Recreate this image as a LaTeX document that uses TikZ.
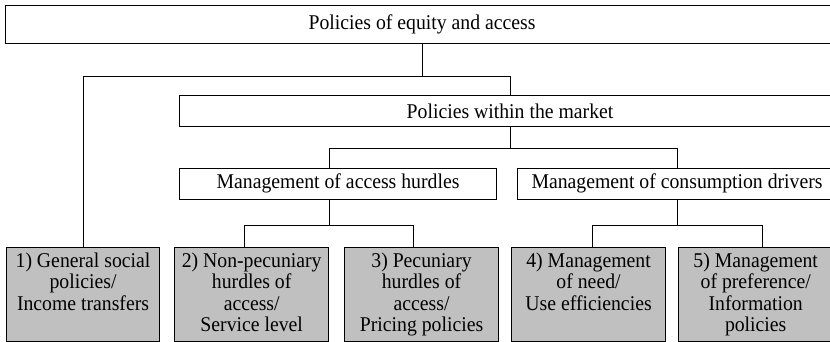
\documentclass[tikz,border=0pt]{standalone}
\usepackage{fontspec}
\setmainfont{Liberation Serif}[FakeStretch=0.94]
\definecolor{leafgray}{RGB}{192,192,192}
\tikzset{
  frame/.style={draw=black, line width=1.1pt, inner sep=0pt, anchor=north west,
    font=\fontsize{21}{21.5}\selectfont},
  leaf/.style={frame, fill=leafgray},
  link/.style={draw=black, line width=1.1pt}
}
% grey policy boxes: text hangs from the top edge
\newcommand{\leafbody}[2]{\parbox[c][94.3pt][t]{#1}{\centering\rule{0pt}{20pt}#2}}

\begin{document}
\begin{tikzpicture}[x=1pt,y=-1pt]
\useasboundingbox (0,0) rectangle (830,342);
\clip (0,0) rectangle (830,342);

% upper levels
\node[frame, minimum width=833pt, minimum height=37.7pt] (equity) at (5,5.3) {Policies of equity and access};
\node[frame, minimum width=661pt, minimum height=31pt] (market) at (179,95) {Policies within the market};
\node[frame, minimum width=317pt, minimum height=31pt] (hurdles) at (179,167.7) {Management of access hurdles};
\node[frame, minimum width=319pt, minimum height=31pt] (drivers) at (517,167.7) {Management of consumption drivers};

% policy instruments
\node[leaf] (social) at (6,246.7) {\leafbody{153pt}{1) General social\\policies/\\Income transfers}};
\node[leaf] (service) at (174,246.7) {\leafbody{154.3pt}{2) Non-pecuniary\\hurdles of\\access/\\Service level}};
\node[leaf] (pricing) at (344.3,246.7) {\leafbody{153.4pt}{3) Pecuniary\\hurdles of\\access/\\Pricing policies}};
\node[leaf] (need) at (511,246.7) {\leafbody{154pt}{4) Management\\of need/\\Use efficiencies}};
\node[leaf] (preference) at (678.3,246.7) {\leafbody{153.7pt}{5) Management\\of preference/\\Information\\policies}};

% tree connectors
\draw[link] (equity.south) -- ++(0,32.3) -| (social.north);
\draw[link] (equity.south) -- ++(0,32.3) -| (market.north);
\draw[link] (market.south) -- ++(0,21.3) -| ([xshift=-8.8pt]hurdles.north);
\draw[link] (market.south) -- ++(0,21.3) -| (drivers.north);
\draw[link] ([xshift=-8.8pt]hurdles.south) -- ++(0,25.6) -| ([xshift=-7.2pt]service.north);
\draw[link] ([xshift=-8.8pt]hurdles.south) -- ++(0,25.6) -| ([xshift=-8.3pt]pricing.north);
\draw[link] (drivers.south) -- ++(0,25.6) -| ([xshift=3.7pt]need.north);
\draw[link] (drivers.south) -- ++(0,25.6) -| ([xshift=6.5pt]preference.north);
\end{tikzpicture}
\end{document}
